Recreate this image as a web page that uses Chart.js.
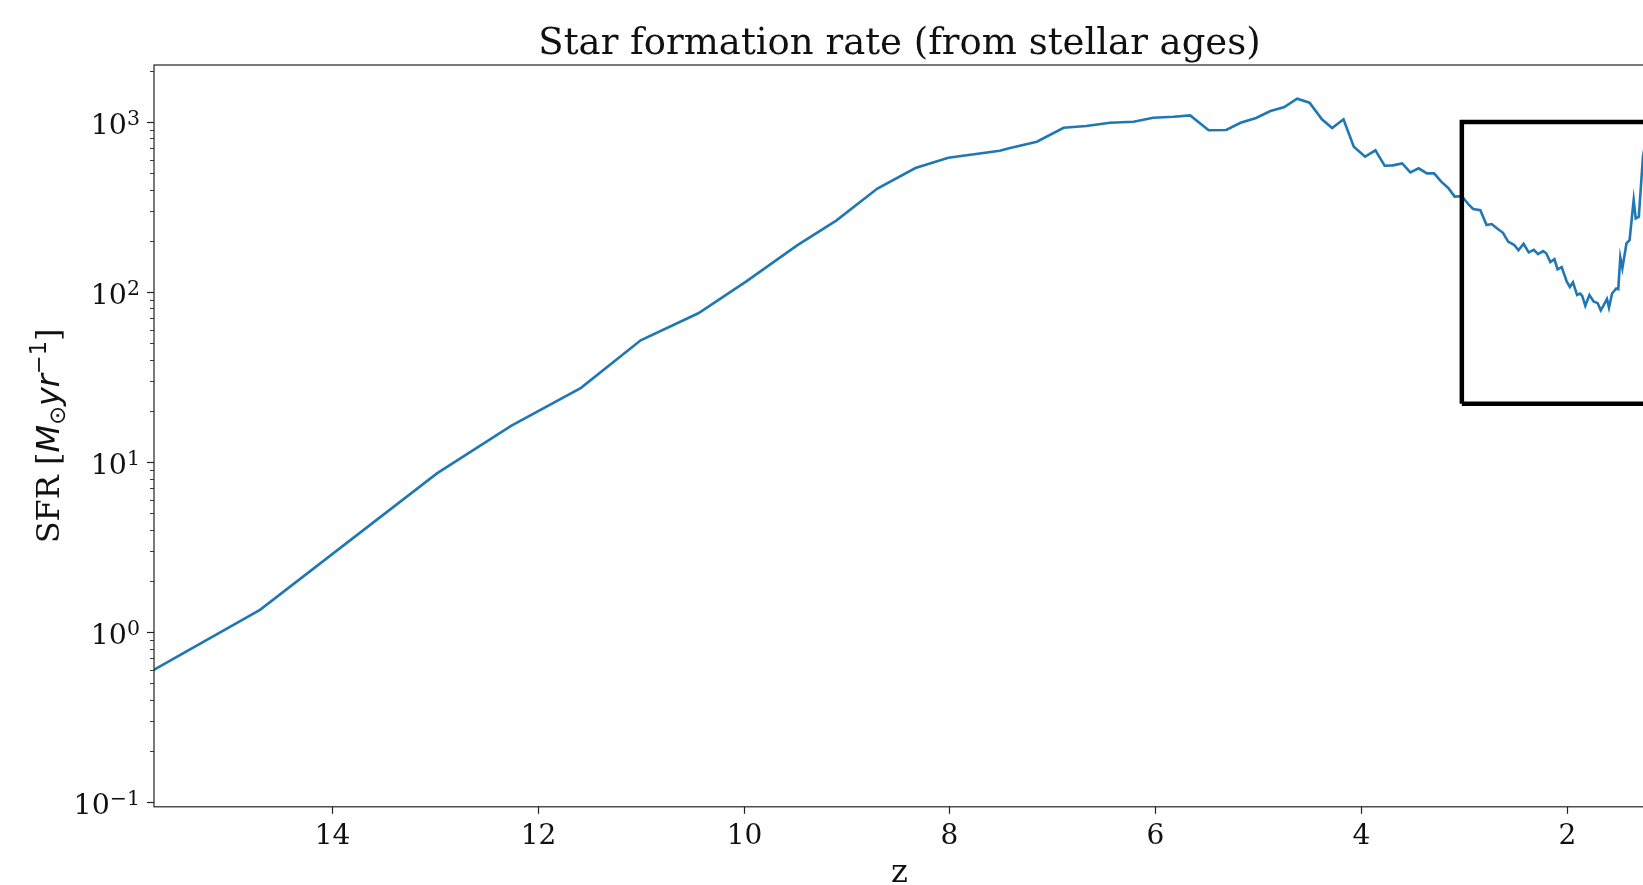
<!DOCTYPE html>
<html>
<head>
<meta charset="utf-8">
<script src="https://cdn.jsdelivr.net/npm/chart.js@4.4.1/dist/chart.umd.min.js"></script>
<style>
  html, body { margin: 0; padding: 0; background: #fff; overflow: hidden; }
  #wrap { position: absolute; left: 0; top: 0; width: 1660px; height: 885px; }
</style>
</head>
<body>
<div id="wrap"><canvas id="sfrChart"></canvas></div>
<script>
// redshift of each sample (x axis runs backwards in z)
const redshift = [
  15.74, 14.70, 12.98, 12.26, 11.58, 11.00, 10.44, 9.97, 9.48, 9.10, 8.70, 8.33, 8.01, 7.51, 7.42,
  7.15, 6.89, 6.67, 6.44, 6.21, 6.02, 5.82, 5.66, 5.48, 5.31, 5.17, 5.02, 4.88, 4.75, 4.62, 4.50,
  4.38, 4.28, 4.17, 4.07, 3.96, 3.86, 3.77, 3.69, 3.60, 3.52, 3.44, 3.36, 3.29, 3.22, 3.15, 3.09,
  3.02, 2.95, 2.91, 2.84, 2.78, 2.73, 2.68, 2.62, 2.57, 2.51, 2.47, 2.42, 2.37, 2.32, 2.28, 2.23,
  2.20, 2.16, 2.12, 2.09, 2.05, 2.00, 1.97, 1.94, 1.90, 1.87, 1.85, 1.82, 1.78, 1.74, 1.70, 1.67,
  1.64, 1.61, 1.59, 1.56, 1.52, 1.50, 1.48, 1.46, 1.42, 1.39, 1.35, 1.33, 1.30, 1.26, 1.20
];
// star formation rate, Msun / yr
const sfr = [
  0.596, 1.35, 8.57, 16.3, 27.3, 52, 75, 116, 188, 263, 406, 536, 617, 678, 700,
  766, 925, 947, 990, 1004, 1060, 1074, 1094, 894, 897, 990, 1056, 1161, 1220, 1372, 1299,
  1037, 922, 1037, 716, 625, 681, 553, 556, 571, 506, 534, 499, 499, 446, 408, 364,
  366, 325, 308, 303, 248, 251, 237, 223, 198, 189, 176, 192, 171, 177, 167, 174,
  169, 150, 156, 136, 140, 115, 107, 114, 96, 98, 95, 83, 96, 88, 86, 78,
  84, 91, 81, 98, 105, 104, 160, 138, 193, 202, 348, 271, 277, 625, 1000
];
// zoom box drawn on the axes
const boxZ = [3.02, 0.4];
const boxSFR = [22, 1000];

const zTicks = [14, 12, 10, 8, 6, 4, 2];
const zRange = [1.24, 15.73];
const sfrRange = [0.0938, 2164];

const SERIF = "'DejaVu Serif', 'Liberation Serif', serif";
const SANS = "'DejaVu Sans', sans-serif";
const TXT = '#111';

function isPow10(v) {
  const e = Math.round(Math.log10(v));
  return Math.abs(v - Math.pow(10, e)) < 1e-9 * v;
}

function logTickValues(min, max) {
  const out = [];
  for (let d = Math.floor(Math.log10(min)); d <= Math.ceil(Math.log10(max)); d++) {
    for (let k = 1; k < 10; k++) {
      const v = k * Math.pow(10, d);
      if (v >= min && v <= max) out.push(v);
    }
  }
  return out;
}

// draws runs of differently styled text one after the other
function drawRuns(ctx, parts, x, y, align) {
  let total = 0;
  parts.forEach(p => { ctx.font = p.f; p.w = ctx.measureText(p.t).width; total += p.w; });
  let cx = align === 'right' ? x - total : align === 'center' ? x - total / 2 : x;
  parts.forEach(p => {
    ctx.font = p.f;
    ctx.fillText(p.t, cx, y + (p.dy || 0));
    cx += p.w;
  });
}

// matplotlib look: spines, tick marks, tick labels and axis labels
const mplAxes = {
  id: 'mplAxes',
  afterDraw(chart) {
    const {ctx, chartArea: a, scales: {x, y}} = chart;
    ctx.save();
    ctx.strokeStyle = '#222';
    ctx.lineWidth = 1.2;
    ctx.strokeRect(a.left, a.top, a.right - a.left, a.bottom - a.top);

    ctx.fillStyle = TXT;
    ctx.textAlign = 'left';
    ctx.textBaseline = 'alphabetic';

    y.ticks.forEach(t => {
      const major = isPow10(t.value);
      const py = Math.round(y.getPixelForValue(t.value)) + 0.5;
      const len = major ? 7 : 4;
      ctx.lineWidth = major ? 1.2 : 0.9;
      ctx.beginPath();
      ctx.moveTo(a.left - len, py);
      ctx.lineTo(a.left, py);
      ctx.stroke();
      if (major) {
        const e = Math.round(Math.log10(t.value));
        const exp = (e < 0 ? '\u2212' : '') + Math.abs(e);
        drawRuns(ctx, [
          {t: '10', f: `28.5px ${SERIF}`},
          {t: exp, f: `20.5px ${SERIF}`, dy: -9}
        ], a.left - 14, py + 11, 'right');
      }
    });

    ctx.lineWidth = 1.2;
    x.ticks.forEach(t => {
      const px = Math.round(x.getPixelForValue(t.value)) + 0.5;
      ctx.beginPath();
      ctx.moveTo(px, a.bottom);
      ctx.lineTo(px, a.bottom + 7);
      ctx.stroke();
      drawRuns(ctx, [{t: String(t.value), f: `28px ${SERIF}`}], px, a.bottom + 37, 'center');
    });

    // x label
    drawRuns(ctx, [{t: 'z', f: `32px ${SERIF}`}], (a.left + a.right) / 2, a.bottom + 75, 'center');

    // y label: SFR [M_sun yr^-1]
    const s = 32;
    ctx.translate(59, (a.top + a.bottom) / 2);
    ctx.rotate(-Math.PI / 2);
    drawRuns(ctx, [
      {t: 'SFR [', f: `${s}px ${SERIF}`},
      {t: 'M', f: `italic ${s}px ${SANS}`},
      {t: '\u2299', f: `${s * 0.7}px ${SANS}`, dy: s * 0.2},
      {t: 'yr', f: `italic ${s}px ${SANS}`},
      {t: '\u22121', f: `${s * 0.7}px ${SANS}`, dy: -s * 0.42},
      {t: ']', f: `${s}px ${SERIF}`}
    ], 0, 0, 'center');
    ctx.restore();
  }
};

const boxData = [
  {x: boxZ[0], y: boxSFR[0]}, {x: boxZ[0], y: boxSFR[1]},
  {x: boxZ[1], y: boxSFR[1]}, {x: boxZ[1], y: boxSFR[0]},
  {x: boxZ[0], y: boxSFR[0]}
];

const ctx = document.getElementById('sfrChart');
new Chart(ctx, {
  type: 'line',
  data: {
    datasets: [{
      label: 'zoom box',
      data: boxData,
      borderColor: '#000',
      borderWidth: 4.5,
      borderJoinStyle: 'miter',
      pointRadius: 0,
      order: 0
    }, {
      label: 'SFR',
      data: redshift.map((z, i) => ({x: z, y: sfr[i]})),
      borderColor: '#1f77b4',
      borderWidth: 2.6,
      pointRadius: 0,
      tension: 0,
      order: 1
    }]
  },
  options: {
    responsive: true,
    maintainAspectRatio: false,
    animation: false,
    layout: { padding: {left: 0, right: 15, top: 0, bottom: 0} },
    plugins: {
      legend: { display: false },
      tooltip: { enabled: false },
      title: {
        display: true,
        fullSize: false,
        text: 'Star formation rate (from stellar ages)',
        color: TXT,
        font: { family: SERIF, size: 37, weight: 'normal', lineHeight: 1.1 },
        padding: { top: 24.3, bottom: 0 }
      }
    },
    scales: {
      x: {
        type: 'linear',
        reverse: true,
        min: zRange[0],
        max: zRange[1],
        grid: { display: false },
        border: { display: false },
        afterBuildTicks: (scale) => { scale.ticks = zTicks.map(v => ({value: v})); },
        afterFit: (scale) => { scale.height = 78.2; },
        ticks: { display: false }
      },
      y: {
        type: 'logarithmic',
        min: sfrRange[0],
        max: sfrRange[1],
        grid: { display: false },
        border: { display: false },
        afterBuildTicks: (scale) => {
          scale.ticks = logTickValues(sfrRange[0], sfrRange[1]).map(v => ({value: v, major: isPow10(v)}));
        },
        afterFit: (scale) => { scale.width = 154; },
        ticks: { display: false }
      }
    }
  },
  plugins: [mplAxes]
});
</script>
</body>
</html>
